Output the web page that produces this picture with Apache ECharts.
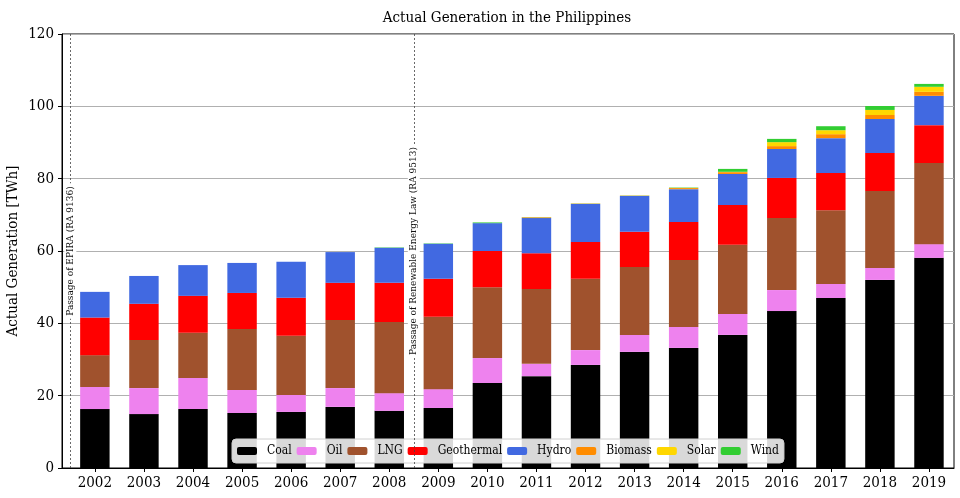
<!DOCTYPE html>
<html>
<head>
<meta charset="utf-8">
<script src="https://cdn.jsdelivr.net/npm/echarts@6/dist/echarts.min.js"></script>
<style>html,body{margin:0;padding:0;background:#fff}#c{width:960px;height:498px}</style>
</head>
<body>
<div id="c"></div>
<script>
const years = [2002,2003,2004,2005,2006,2007,2008,2009,2010,2011,2012,2013,2014,2015,2016,2017,2018,2019];
const coal = [16.3,14.9,16.3,15.2,15.5,16.9,15.8,16.6,23.5,25.4,28.5,32.1,33.2,36.8,43.4,47.0,52.0,58.1];
const oil = [6.1,7.2,8.6,6.4,4.7,5.2,4.9,5.2,6.9,3.4,4.1,4.7,5.8,5.8,5.8,3.9,3.3,3.8];
const lng = [8.8,13.3,12.5,16.8,16.4,18.8,19.7,20.0,19.6,20.7,19.7,18.8,18.5,19.1,19.9,20.4,21.3,22.4];
const geothermal = [10.4,10.0,10.2,10.0,10.5,10.3,10.8,10.5,10.0,9.9,10.2,9.7,10.5,11.0,11.1,10.3,10.5,10.5];
const hydro = [7.1,7.7,8.5,8.3,9.9,8.5,9.7,9.7,7.7,9.7,10.5,9.9,9.1,8.6,8.0,9.6,9.4,8.1];
const biomass = [0,0,0,0,0,0,0,0,0,0.2,0.1,0.1,0.3,0.5,0.8,1.1,1.1,1.1];
const solar = [0,0,0,0,0,0,0,0,0,0,0,0,0.05,0.1,1.1,1.1,1.4,1.4];
const wind = [0,0,0,0,0,0,0.1,0.1,0.2,0.05,0.05,0.05,0.1,0.8,0.9,1.1,1.1,0.8];
const events = [
  {x: 2001.5, label: 'Passage of EPIRA (RA 9136)'},
  {x: 2008.5, label: 'Passage of Renewable Energy Law (RA 9513)'}
];
const seriesDefs = [
  ['Coal', coal, '#000000'],
  ['Oil', oil, '#ee82ee'],
  ['LNG', lng, '#a0522d'],
  ['Geothermal', geothermal, '#ff0000'],
  ['Hydro', hydro, '#4169e1'],
  ['Biomass', biomass, '#ff8c00'],
  ['Solar', solar, '#ffd700'],
  ['Wind', wind, '#32cd32']
];
const FONT = "'DejaVu Serif Condensed','DejaVu Serif',serif";
const X_MIN = 2001.33, X_MAX = 2019.51;
const GL = 62, GR = 6;
const pxPerYear = (960 - GL - GR) / (X_MAX - X_MIN);
const chart = echarts.init(document.getElementById('c'), null, {renderer: 'canvas'});
const series = seriesDefs.map(([name, vals, color]) => ({
  name, type: 'bar', stack: 'total',
  xAxisIndex: 1, yAxisIndex: 1,
  barWidth: '60%',
  itemStyle: {color},
  emphasis: {disabled: true},
  data: vals
}));
series.push({
  name: 'events', type: 'line', data: [], silent: true,
  xAxisIndex: 0, yAxisIndex: 0,
  markLine: {
    silent: true, symbol: ['none','none'],
    lineStyle: {type: [2,2], color: '#444', width: 0.8},
    label: {
      show: true, position: 'middle', distance: -6,
      fontFamily: FONT, fontSize: 10, color: '#111',
      backgroundColor: '#fff', padding: [1,3],
      formatter: p => p.name
    },
    emphasis: {disabled: true},
    data: events.map(e => ({name: e.label, xAxis: e.x}))
  }
});
chart.setOption({
  animation: false,
  backgroundColor: '#fff',
  textStyle: {fontFamily: FONT},
  title: {
    text: 'Actual Generation in the Philippines', left: 502, top: 6, textAlign: 'center',
    textStyle: {fontFamily: FONT, fontSize: 15, fontWeight: 'normal', color: '#000'}
  },
  grid: [
    {left: GL, right: GR, top: 34, bottom: 30, outerBoundsMode: 'none', containLabel: false,
     show: true, borderColor: '#000', borderWidth: 1, backgroundColor: 'transparent'},
    {left: GL + (years[0] - 0.5 - X_MIN) * pxPerYear, right: GR + (X_MAX - years[years.length-1] - 0.5) * pxPerYear,
     top: 34, bottom: 30, outerBoundsMode: 'none', containLabel: false}
  ],
  legend: {
    data: seriesDefs.map(d => d[0]),
    left: 232, bottom: 35,
    itemWidth: 20, itemHeight: 8, itemGap: 5,
    backgroundColor: 'rgba(255,255,255,0.85)', borderColor: '#d0d0d0', borderWidth: 1, borderRadius: 4,
    padding: [6, 5],
    textStyle: {fontFamily: FONT, fontSize: 12, color: '#000', padding: [0,0,0,5]},
    selectedMode: false
  },
  xAxis: [{
    gridIndex: 0, type: 'value', min: X_MIN, max: X_MAX,
    axisLine: {show: true, lineStyle: {color: '#000'}},
    axisTick: {show: true, customValues: years, length: 4, lineStyle: {color: '#000'}},
    axisLabel: {customValues: years, formatter: v => String(v), fontFamily: FONT, fontSize: 15, color: '#000', margin: 8},
    splitLine: {show: false}
  }, {
    gridIndex: 1, type: 'category', data: years.map(String), show: false
  }],
  yAxis: [{
    gridIndex: 0, type: 'value', min: 0, max: 120, interval: 20,
    name: 'Actual Generation [TWh]', nameLocation: 'middle', nameGap: 41, nameMoveOverlap: false,
    nameTextStyle: {fontFamily: FONT, fontSize: 15, color: '#000'},
    axisLine: {show: true, lineStyle: {color: '#000'}},
    axisTick: {show: true, length: 4, lineStyle: {color: '#000'}},
    axisLabel: {fontFamily: FONT, fontSize: 15, color: '#000', margin: 8},
    splitLine: {show: true, lineStyle: {color: '#b0b0b0', width: 1}}
  }, {
    gridIndex: 1, type: 'value', min: 0, max: 120, interval: 20, show: false, splitLine: {show: false}
  }],
  series
});
</script>
</body>
</html>
